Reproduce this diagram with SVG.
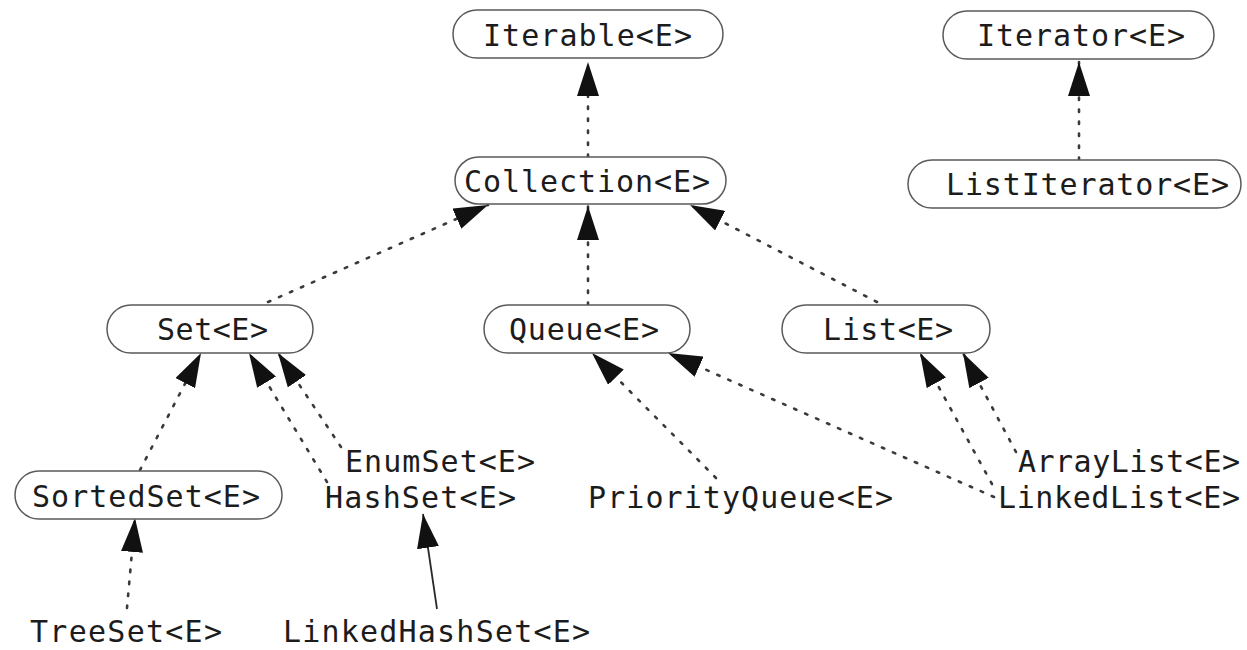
<svg xmlns="http://www.w3.org/2000/svg" width="1247" height="650" viewBox="0 0 1247 650">
  <defs>
    <style>
      .pill { fill: #ffffff; stroke: #5a5a5a; stroke-width: 1.5; }
      .lbl { font-family: "DejaVu Sans Mono", "Liberation Mono", monospace; font-size: 30px; fill: #1c1c1c; }
      .dot { fill: none; stroke: #3a3a3a; stroke-width: 2.6; stroke-dasharray: 2.5 9.5; stroke-linecap: round; }
      .solid { fill: none; stroke: #2a2a2a; stroke-width: 1.8; }
    </style>
    <marker id="head" viewBox="0 0 34 22" markerWidth="34" markerHeight="22" refX="34" refY="11" orient="auto" markerUnits="userSpaceOnUse">
      <path d="M0,0 L34,11 L0,22 Z" fill="#111"/>
    </marker>
  </defs>
  <rect width="1247" height="650" fill="#ffffff"/>

  <!-- inheritance connectors -->
  <g id="connectors">
    <line class="dot" x1="588" y1="157" x2="588" y2="62" marker-end="url(#head)"/>
    <line class="dot" x1="1079" y1="160" x2="1079" y2="62" marker-end="url(#head)"/>
    <line class="dot" x1="268" y1="302" x2="488" y2="205" marker-end="url(#head)"/>
    <line class="dot" x1="588" y1="305" x2="588" y2="206" marker-end="url(#head)"/>
    <line class="dot" x1="877" y1="302" x2="690" y2="205" marker-end="url(#head)"/>
    <line class="dot" x1="140" y1="470" x2="201" y2="353" marker-end="url(#head)"/>
    <line class="dot" x1="327" y1="482" x2="249" y2="353" marker-end="url(#head)"/>
    <line class="dot" x1="341" y1="447" x2="278" y2="353" marker-end="url(#head)"/>
    <line class="dot" x1="716" y1="478" x2="592" y2="353" marker-end="url(#head)"/>
    <line class="dot" x1="994" y1="497" x2="668" y2="353" marker-end="url(#head)"/>
    <line class="dot" x1="992" y1="484" x2="920" y2="353" marker-end="url(#head)"/>
    <line class="dot" x1="1016" y1="452" x2="963" y2="353" marker-end="url(#head)"/>
    <line class="dot" x1="127" y1="608" x2="135" y2="518" marker-end="url(#head)"/>
    <line class="solid" x1="437" y1="609" x2="423" y2="514" marker-end="url(#head)"/>
  </g>

  <g id="iterable">
    <rect class="pill" x="453" y="10" width="270" height="48" rx="24"/>
    <text class="lbl" x="483" y="46" textLength="209" lengthAdjust="spacing">Iterable&lt;E&gt;</text>
  </g>
  <g id="iterator">
    <rect class="pill" x="943" y="11" width="271" height="48" rx="24"/>
    <text class="lbl" x="977" y="46" textLength="208" lengthAdjust="spacing">Iterator&lt;E&gt;</text>
  </g>
  <g id="collection">
    <rect class="pill" x="455" y="157" width="271" height="47" rx="23.5"/>
    <text class="lbl" x="464" y="192" textLength="246" lengthAdjust="spacing">Collection&lt;E&gt;</text>
  </g>
  <g id="listiterator">
    <rect class="pill" x="908" y="160" width="333" height="48" rx="24"/>
    <text class="lbl" x="946" y="195" textLength="283" lengthAdjust="spacing">ListIterator&lt;E&gt;</text>
  </g>
  <g id="set">
    <rect class="pill" x="107" y="305" width="206" height="48" rx="24"/>
    <text class="lbl" x="157" y="340" textLength="111" lengthAdjust="spacing">Set&lt;E&gt;</text>
  </g>
  <g id="queue">
    <rect class="pill" x="484" y="305" width="206" height="48" rx="24"/>
    <text class="lbl" x="509" y="340" textLength="150" lengthAdjust="spacing">Queue&lt;E&gt;</text>
  </g>
  <g id="list">
    <rect class="pill" x="782" y="305" width="208" height="48" rx="24"/>
    <text class="lbl" x="823" y="340" textLength="130" lengthAdjust="spacing">List&lt;E&gt;</text>
  </g>
  <g id="sortedset">
    <rect class="pill" x="15" y="471" width="267" height="48" rx="24"/>
    <text class="lbl" x="32" y="507" textLength="228" lengthAdjust="spacing">SortedSet&lt;E&gt;</text>
  </g>
  <g id="enumset">
    <text class="lbl" x="345" y="472" textLength="190" lengthAdjust="spacing">EnumSet&lt;E&gt;</text>
  </g>
  <g id="hashset">
    <text class="lbl" x="325" y="508" textLength="191" lengthAdjust="spacing">HashSet&lt;E&gt;</text>
  </g>
  <g id="priorityqueue">
    <text class="lbl" x="588" y="508" textLength="305" lengthAdjust="spacing">PriorityQueue&lt;E&gt;</text>
  </g>
  <g id="arraylist">
    <text class="lbl" x="1018" y="472" textLength="222" lengthAdjust="spacing">ArrayList&lt;E&gt;</text>
  </g>
  <g id="linkedlist">
    <text class="lbl" x="998" y="508" textLength="242" lengthAdjust="spacing">LinkedList&lt;E&gt;</text>
  </g>
  <g id="treeset">
    <text class="lbl" x="30" y="642" textLength="192" lengthAdjust="spacing">TreeSet&lt;E&gt;</text>
  </g>
  <g id="linkedhashset">
    <text class="lbl" x="283" y="642" textLength="307" lengthAdjust="spacing">LinkedHashSet&lt;E&gt;</text>
  </g>
</svg>
